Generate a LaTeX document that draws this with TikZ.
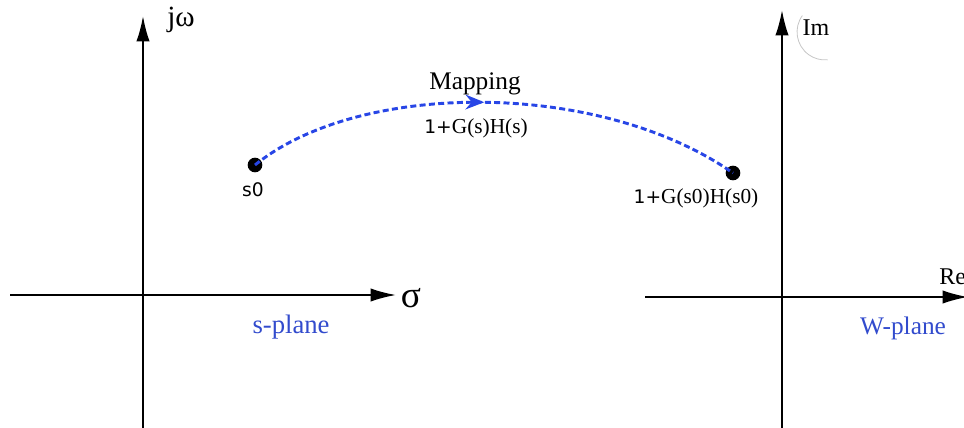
\documentclass[tikz,border=0pt]{standalone}
\usepackage{fontspec}
\setmainfont{Liberation Serif}
\setsansfont{DejaVu Sans}
\usetikzlibrary{arrows.meta,decorations.markings}
\definecolor{mapblue}{RGB}{40,70,230}
\definecolor{lblblue}{RGB}{50,75,205}
\tikzset{
  axis/.style={line width=1.4pt,-{Latex[length=19pt,width=10pt]}},
  pt/.style={circle,fill=black,inner sep=0pt,minimum size=11pt},
  lbl/.style={font=\fontsize{14}{16}\selectfont,inner sep=1pt},
  plane/.style={font=\fontsize{19}{21}\selectfont,text=lblblue,inner sep=1pt},
  mapcurve/.style={mapblue,line width=2.2pt,dash pattern=on 4.5pt off 2.5pt,
    postaction={decorate},
    decoration={markings,mark=at position 0.48 with {\arrow{Stealth[length=14pt,width=11pt]}}}}
}
\begin{document}
\begin{tikzpicture}[x=0.75pt,y=-0.75pt]
\useasboundingbox (0,0) rectangle (964,428);
% left plane axes
\coordinate (lvb) at (143,440);
\coordinate (lvt) at (143,16);
\coordinate (lhl) at (10,295);
\coordinate (lhr) at (396,295);
\draw[axis] (lvb) -- (lvt);
\draw[axis] (lhl) -- (lhr);
\node[font=\fontsize{28}{30}\selectfont,inner sep=0pt] (sigma) at (411,298) {σ};
\node[font=\fontsize{22}{24}\selectfont,inner sep=0pt] (jw) at (181,20) {jω};
\node[plane,font=\fontsize{20}{22}\selectfont] (splane) at (291,327) {s-plane};
% right plane axes
\coordinate (rvb) at (782,440);
\coordinate (rvt) at (782,10);
\coordinate (rhl) at (645,297);
\coordinate (rhr) at (968,297);
\draw[axis] (rvb) -- (rvt);
\draw[axis] (rhl) -- (rhr);
\node[font=\fontsize{18}{20}\selectfont,inner sep=0pt,anchor=west] (re) at (939,277) {Re};
\node[font=\fontsize{18}{20}\selectfont,inner sep=0pt] (im) at (816,28) {Im};
\draw[gray!45,line width=0.6pt] (802.4,15.5) arc[start angle=216,end angle=85,radius=28];
\node[plane] (wplane) at (903,328) {W-plane};
% points
\node[pt] (s0) at (255,165) {};
\node[pt] (w0) at (733,173) {};
\node[lbl,font=\sffamily\fontsize{14}{16}\selectfont] (s0l) at (253,190) {s0};
\node[lbl,font=\fontsize{16}{18}\selectfont] (w0l) at (696,198) {\textsf{\fontsize{14}{16}\selectfont 1+}G(s0)H(s0)};
% mapping
\draw[mapcurve] (s0.center) .. controls (360,80) and (600,80) .. (w0.center);
\node[lbl,font=\fontsize{19}{21}\selectfont] (map) at (475,84) {Mapping};
\node[lbl,font=\fontsize{16}{18}\selectfont] (gh) at (476,128) {\textsf{\fontsize{14}{16}\selectfont 1+}G(s)H(s)};
\end{tikzpicture}
\end{document}
